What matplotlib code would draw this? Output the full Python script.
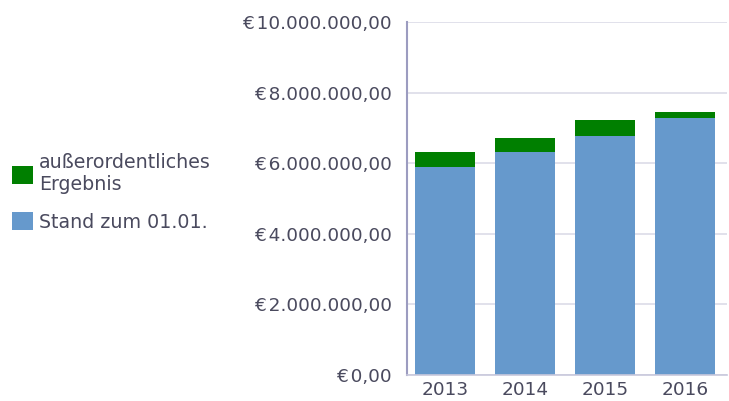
import matplotlib
matplotlib.use("Agg")
import matplotlib.pyplot as plt
from matplotlib.ticker import FuncFormatter, MultipleLocator

years = ["2013", "2014", "2015", "2016"]
stand = [5900000, 6310000, 6760000, 7270000]
ausser = [410000, 390000, 450000, 170000]

blue = "#6699cc"
green = "#007f00"
txt = "#4a4a5e"

plt.rcParams["font.family"] = ["DejaVu Sans"]


def euro(v, pos=None):
    s = f"{v:,.2f}".replace(",", "X").replace(".", ",").replace("X", ".")
    return "€\u200a" + s


fig = plt.figure(figsize=(7.29, 4.01), dpi=100)
ax = fig.add_axes([407 / 729, 1 - 375 / 401, 320 / 729, 353 / 401])

x = range(len(years))
b1 = ax.bar(x, stand, width=0.75, color=blue, zorder=2, label="Stand zum 01.01.")
b2 = ax.bar(x, ausser, width=0.75, bottom=stand, color=green, zorder=2,
            label="außerordentliches\nErgebnis")

ax.set_xlim(-0.48, 3.52)
ax.set_ylim(0, 10000000)
ax.yaxis.set_major_locator(MultipleLocator(2000000))
ax.yaxis.set_major_formatter(FuncFormatter(euro))
ax.set_xticks(list(x))
ax.set_xticklabels(years)

ax.grid(axis="y", color="#dcdce8", linewidth=1.2, zorder=0)
ax.set_axisbelow(True)
for s in ["top", "right"]:
    ax.spines[s].set_visible(False)
ax.spines["left"].set_color("#9c9cc0")
ax.spines["left"].set_linewidth(1.5)
ax.spines["bottom"].set_color("#c8c8dc")
ax.spines["bottom"].set_linewidth(1.2)
ax.tick_params(axis="y", length=0, pad=11, labelsize=13.3, labelcolor=txt)
ax.tick_params(axis="x", length=0, pad=4, labelsize=13.3, labelcolor=txt)

fig.legend([b2, b1], ["außerordentliches\nErgebnis", "Stand zum 01.01."],
           loc="center left", bbox_to_anchor=(0.017, 0.52), frameon=False,
           handlelength=1.1, handleheight=1.1, handletextpad=0.3,
           labelspacing=0.95, fontsize=13.7, labelcolor=txt,
           borderaxespad=0, borderpad=0)

fig.savefig("out.png", dpi=100)
